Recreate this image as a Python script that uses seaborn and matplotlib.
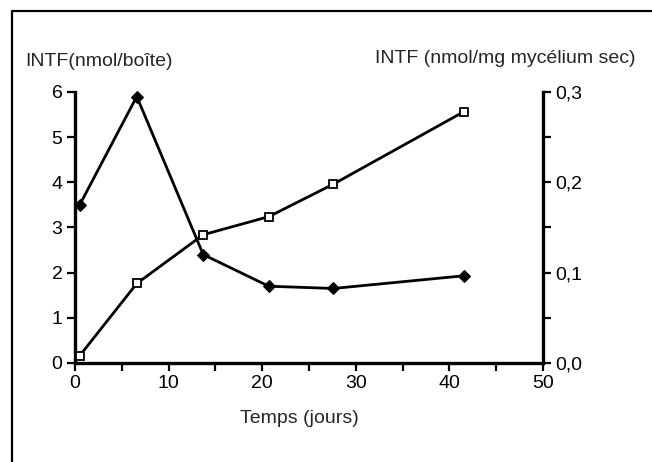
import numpy as np
import pandas as pd
import matplotlib
matplotlib.use("Agg")
from matplotlib import pyplot as plt
from matplotlib.lines import Line2D
from matplotlib.ticker import MultipleLocator
import seaborn as sns

# values
jours = [0.5, 6.6, 13.7, 20.7, 27.6, 41.5]
intf_boite = [3.5, 5.9, 2.4, 1.7, 1.65, 1.93]          # nmol/boite (left axis, filled diamonds)
intf_mycelium = [0.008, 0.088, 0.142, 0.162, 0.198, 0.278]  # nmol/mg mycelium sec (right axis, open squares)

x_ticks = [0, 10, 20, 30, 40, 50]
left_ticks = [0, 1, 2, 3, 4, 5, 6]
right_ticks = [0.0, 0.1, 0.2, 0.3]
right_labels = ["0,0", "0,1", "0,2", "0,3"]

df = pd.DataFrame({"jours": jours, "boite": intf_boite, "mycelium": intf_mycelium})

sns.set_style("ticks")
plt.rcParams['font.family'] = ['Liberation Sans', 'DejaVu Sans']
plt.rcParams['font.size'] = 14

fig = plt.figure(figsize=(6.52, 4.62), dpi=100)
ax = fig.add_axes([0.1150, 0.2143, 0.7180, 0.5866])
ax2 = ax.twinx()

sns.lineplot(data=df, x="jours", y="boite", ax=ax, color="black", lw=2.0,
             marker="D", markersize=6.5, markerfacecolor="black", markeredgecolor="black",
             clip_on=False, zorder=3)
sns.lineplot(data=df, x="jours", y="mycelium", ax=ax2, color="black", lw=2.0,
             marker="s", markersize=6, markerfacecolor="white", markeredgecolor="black",
             markeredgewidth=1.3, clip_on=False, zorder=3)

ax.set_xlim(0, 50)
ax.set_ylim(0, 6)
ax2.set_ylim(0, 0.3)

ax.set_xticks(x_ticks)
ax.xaxis.set_minor_locator(MultipleLocator(5))
ax.set_yticks(left_ticks)
ax2.set_yticks(right_ticks)
ax2.set_yticklabels(right_labels)
ax2.yaxis.set_minor_locator(MultipleLocator(0.05))

for a in (ax, ax2):
    a.set_xlabel("")
    a.set_ylabel("")
    for s in a.spines.values():
        s.set_linewidth(2.4)
        s.set_color("black")
    a.spines["top"].set_visible(False)
ax.spines["right"].set_visible(False)
ax2.spines["left"].set_visible(False)
ax2.spines["bottom"].set_visible(False)

ax.tick_params(axis="both", which="both", direction="out", length=6, width=1.6,
               labelsize=14, pad=3, colors="black")
ax2.tick_params(axis="y", which="both", direction="out", length=6, width=1.6,
                labelsize=14, pad=3, colors="black")

ax.set_xlabel("Temps (jours)", fontsize=14, labelpad=10)
ax.xaxis.set_label_coords(0.48, -0.175)

fig.text(0.039, 0.866, "INTF(nmol/boîte)", fontsize=14, ha="left", va="center")
fig.text(0.974, 0.874, "INTF (nmol/mg mycélium sec)", fontsize=14, ha="right", va="center")

# scanned page frame
fig.add_artist(Line2D([0.0184, 0.0184], [0.0, 0.976], color="black", lw=1.6))
fig.add_artist(Line2D([0.0184, 1.0], [0.976, 0.976], color="black", lw=1.6))

plt.savefig("out.png", dpi=100)
